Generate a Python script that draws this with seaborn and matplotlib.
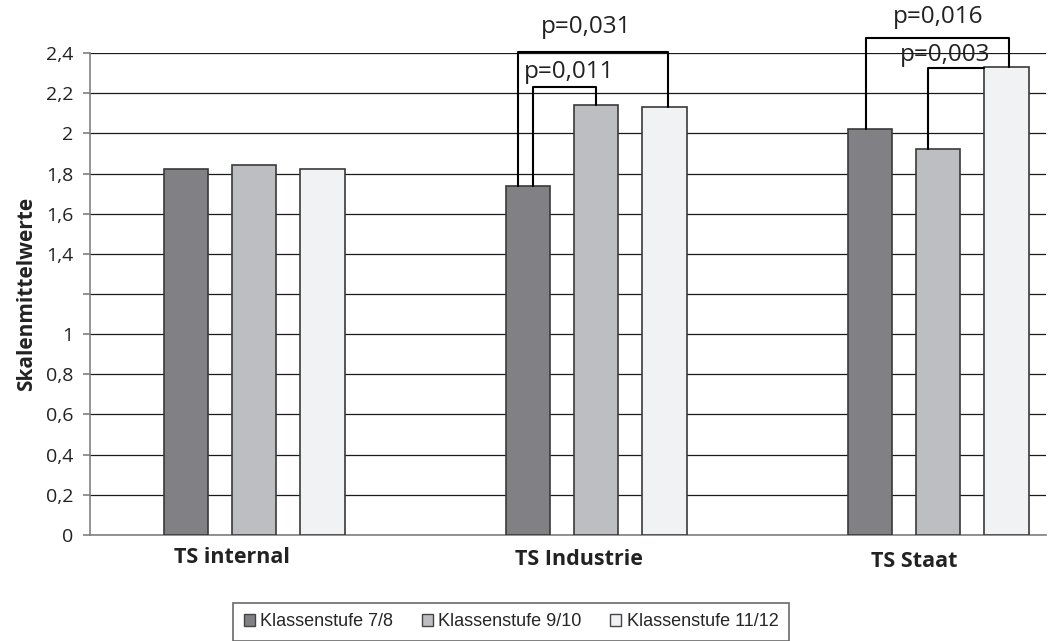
import pandas as pd
import seaborn as sns
import matplotlib.pyplot as plt
from matplotlib.transforms import ScaledTranslation

# data
categories = ['TS internal', 'TS Industrie', 'TS Staat']
groups = ['Klassenstufe 7/8', 'Klassenstufe 9/10', 'Klassenstufe 11/12']
values_78 = [1.82, 1.74, 2.02]
values_910 = [1.84, 2.14, 1.92]
values_1112 = [1.82, 2.13, 2.33]
ytick_values = [0, 0.2, 0.4, 0.6, 0.8, 1.0, 1.2, 1.4, 1.6, 1.8, 2.0, 2.2, 2.4]
ytick_labels = ['0', '0,2', '0,4', '0,6', '0,8', '1', '', '1,4', '1,6', '1,8', '2', '2,2', '2,4']

df = pd.DataFrame({
    'Kategorie': categories * 3,
    'Gruppe': [groups[0]] * 3 + [groups[1]] * 3 + [groups[2]] * 3,
    'Wert': values_78 + values_910 + values_1112,
})

sns.set_style('white')
plt.rcParams['font.family'] = ['Open Sans', 'DejaVu Sans']

fig = plt.figure(figsize=(10.48, 6.41), dpi=100)
ax = fig.add_axes([0.0859, 0.1654, 0.9121, 0.7519])

palette = ['#808085', '#bdbec2', '#f1f2f4']
sns.barplot(data=df, x='Kategorie', y='Wert', hue='Gruppe', palette=palette,
            width=0.6, gap=0.35, edgecolor='#3a3a3a', linewidth=1.2,
            saturation=1, ax=ax, zorder=3)

ax.set_xlim(-0.48, 2.315)
ax.set_ylim(0, 2.4)
ax.set_yticks(ytick_values)
ax.set_yticklabels(ytick_labels, fontsize=14, color='#222222')
ax.yaxis.grid(True, color='#1a1a1a', linewidth=0.9, zorder=0)
ax.set_axisbelow(True)
ax.tick_params(axis='y', length=5, width=1.2, color='#808080', pad=7, left=True)
ax.tick_params(axis='x', length=0, pad=9)
for side in ['top', 'right']:
    ax.spines[side].set_visible(False)
for side in ['left', 'bottom']:
    ax.spines[side].set_color('#808080')
    ax.spines[side].set_linewidth(1.2)

ax.set_xlabel('')
ax.set_ylabel('Skalenmittelwerte', fontsize=15, fontweight='bold', color='#222222', labelpad=6)

# category labels, slightly shifted as in the original
shifts = [(-22, 0), (-17, -2), (-24, -4)]
for lab, (dx, dy) in zip(ax.get_xticklabels(), shifts):
    lab.set_fontsize(15.5)
    lab.set_fontweight('bold')
    lab.set_color('#222222')
    lab.set_transform(lab.get_transform() + ScaledTranslation(dx / 100, dy / 100, fig.dpi_scale_trans))

# significance brackets
def bracket(x1, y1, x2, y2, top):
    ax.plot([x1, x1, x2, x2], [y1, top, top, y2], color='black', lw=1.5,
            clip_on=False, zorder=5)

bracket(0.77, values_78[1], 1.21, values_1112[1], 2.405)
bracket(0.815, values_78[1], 1.0, values_910[1], 2.23)
bracket(1.79, values_78[2], 2.208, values_1112[2], 2.475)
ax.plot([1.97, 1.97, 2.135], [values_910[2], 2.326, 2.326], color='black', lw=1.5,
        clip_on=False, zorder=5)

ax.text(0.97, 2.53, 'p=0,031', ha='center', va='center', fontsize=17.5, color='#222222')
ax.text(0.92, 2.306, 'p=0,011', ha='center', va='center', fontsize=17.5, color='#222222')
ax.text(2.0, 2.58, 'p=0,016', ha='center', va='center', fontsize=17.5, color='#222222')
ax.text(2.02, 2.39, 'p=0,003', ha='center', va='center', fontsize=17.5, color='#222222')

leg = ax.legend(loc='upper center', bbox_to_anchor=(0.4876, 0.074),
                bbox_transform=fig.transFigure, ncol=3, frameon=True,
                fancybox=False, handlelength=0.6, handleheight=0.6,
                handletextpad=0.3, columnspacing=1.6, borderpad=0.6,
                prop={'family': 'Liberation Sans', 'size': 13})
leg.get_frame().set_edgecolor('#444444')
leg.get_frame().set_linewidth(1.2)
for h in leg.legend_handles:
    h.set_edgecolor('#444444')
    h.set_linewidth(1)

fig.savefig('out.png', dpi=100)
